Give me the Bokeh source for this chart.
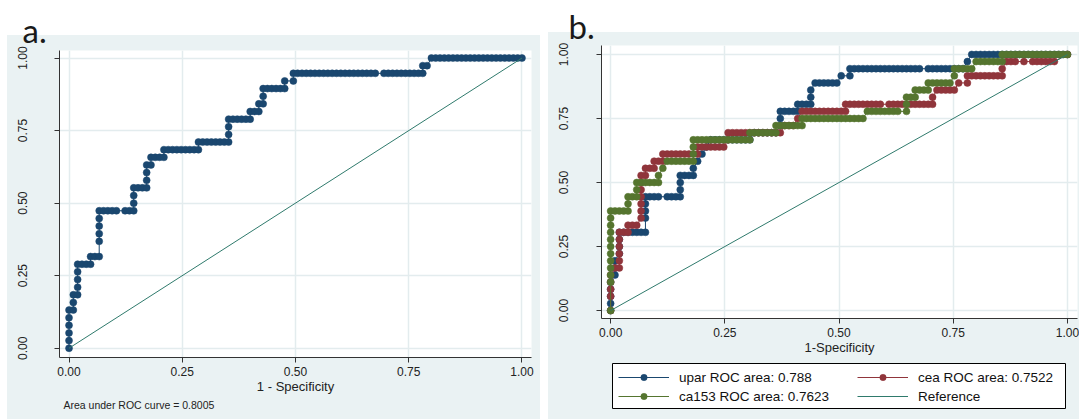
import numpy as np
from bokeh.plotting import figure
from bokeh.models import (ColumnDataSource, Range1d, FixedTicker, Legend,
                          LegendItem, Title)
from bokeh.embed import file_html
from bokeh.resources import INLINE

# ------------------------------------------------------------------ data
# Panel a: single ROC curve, points as (false-positive count, true-positive count)
A_N_NEG = 105
A_N_POS = 38
A_AUC_TEXT = "Area under ROC curve = 0.8005"
a_roc = [
    (0, 0), (0, 1), (0, 2), (0, 3), (0, 4), (0, 5),
    (1, 5), (1, 6), (1, 7),
    (2, 7), (2, 8), (2, 9), (2, 10), (2, 11),
    (3, 11), (4, 11), (5, 11),
    (5, 12), (6, 12), (7, 12),
    (7, 14), (7, 15), (7, 16), (7, 17), (7, 18),
    (8, 18), (9, 18), (10, 18), (11, 18), (13, 18), (14, 18), (15, 18),
    (15, 19), (15, 20), (15, 21),
    (16, 21), (17, 21), (18, 21),
    (18, 22), (18, 23), (18, 24),
    (19, 24),
    (19, 25), (20, 25), (21, 25), (22, 25),
    (22, 26), (23, 26), (24, 26), (25, 26), (26, 26), (27, 26), (28, 26), (29, 26), (30, 26),
    (30, 27), (31, 27), (32, 27), (33, 27), (34, 27), (35, 27), (36, 27), (37, 27),
    (37, 28), (37, 29), (37, 30),
    (38, 30), (39, 30), (40, 30), (41, 30), (42, 30),
    (42, 31), (43, 31), (44, 31),
    (44, 32), (45, 32),
    (45, 33), (45, 34),
    (46, 34), (47, 34), (48, 34), (49, 34), (50, 34),
    (50, 35), (52, 35),
    (52, 36), (53, 36), (54, 36), (55, 36), (56, 36), (57, 36), (58, 36), (59, 36), (60, 36),
    (61, 36), (62, 36), (63, 36), (64, 36), (65, 36), (66, 36), (67, 36), (68, 36), (69, 36),
    (70, 36), (71, 36),
    (73, 36), (74, 36), (75, 36), (76, 36), (77, 36), (78, 36), (79, 36), (80, 36), (81, 36), (82, 36),
    (82, 37), (83, 37),
    (84, 38), (85, 38), (86, 38), (87, 38), (88, 38), (89, 38), (90, 38), (91, 38), (92, 38),
    (93, 38), (94, 38), (95, 38), (96, 38), (97, 38), (98, 38), (99, 38), (100, 38), (101, 38),
    (102, 38), (103, 38), (104, 38), (105, 38),
]

# Panel b: three ROC curves
B_N_NEG = 105
B_N_POS = 36
upar_roc = [
    (0, 0), (0, 1), (0, 2), (0, 3), (0, 4),
    (1, 5), (1, 6), (1, 7),
    (2, 8), (2, 9), (2, 10), (2, 11),
    (3, 11), (4, 11), (5, 11), (6, 11), (7, 11), (8, 11),
    (8, 13), (8, 14), (8, 15), (8, 16),
    (9, 16), (10, 16), (11, 16), (13, 16), (14, 16), (15, 16), (16, 16),
    (16, 17), (16, 18), (16, 19),
    (17, 19), (18, 19), (19, 19),
    (19, 20),
    (20, 21), (21, 22), (22, 23),
    (23, 24), (24, 24), (25, 24), (26, 24), (27, 24), (28, 24), (29, 24), (30, 24), (31, 24), (32, 24),
    (33, 25), (34, 25), (35, 25), (36, 25), (37, 25), (38, 25),
    (39, 26), (39, 27), (39, 28),
    (40, 28), (41, 28), (42, 28), (43, 28),
    (43, 29), (44, 29), (45, 29), (46, 29),
    (46, 30), (46, 31),
    (47, 32), (48, 32), (49, 32), (50, 32), (51, 32), (52, 32),
    (53, 33), (55, 33),
    (55, 34), (56, 34), (57, 34), (58, 34), (59, 34), (60, 34), (61, 34), (62, 34), (63, 34),
    (64, 34), (65, 34), (66, 34), (67, 34), (68, 34), (69, 34), (70, 34), (71, 34),
    (73, 34), (74, 34), (75, 34), (76, 34), (77, 34), (78, 34), (79, 34), (80, 34), (81, 34),
    (82, 35),
    (83, 36), (84, 36), (85, 36), (86, 36), (87, 36), (88, 36), (89, 36), (90, 36), (91, 36),
    (92, 36), (93, 36), (94, 36), (95, 36), (96, 36), (97, 36), (98, 36), (99, 36), (100, 36),
    (101, 36), (102, 36), (103, 36), (104, 36), (105, 36),
]
cea_roc = [
    (0, 0), (0, 2), (0, 3), (0, 4), (0, 5),
    (1, 6), (2, 6),
    (2, 7), (2, 8), (2, 9), (2, 10), (2, 11),
    (3, 11), (4, 11),
    (4, 12), (5, 12), (6, 12),
    (7, 13), (7, 14), (7, 15), (7, 16), (7, 17), (7, 18), (7, 19),
    (8, 19),
    (8, 20), (9, 20), (10, 20),
    (10, 21), (11, 21), (12, 21),
    (12, 22), (13, 22), (14, 22), (15, 22), (16, 22), (17, 22), (18, 22), (20, 22),
    (20, 23), (21, 23), (22, 23), (23, 23), (24, 23), (25, 23), (26, 23),
    (27, 24),
    (27, 25), (28, 25), (29, 25), (30, 25), (31, 25), (32, 25), (33, 25), (34, 25), (35, 25),
    (36, 25), (37, 25), (38, 25), (39, 25),
    (40, 26), (41, 26), (42, 26),
    (43, 27),
    (44, 28), (45, 28), (46, 28), (47, 28), (48, 28), (49, 28), (50, 28), (51, 28), (52, 28),
    (53, 28), (54, 28),
    (54, 29), (55, 29), (56, 29), (57, 29), (58, 29), (59, 29), (60, 29), (61, 29), (62, 29),
    (64, 29), (65, 29), (66, 29), (67, 29), (68, 29), (69, 29), (70, 29), (71, 29), (72, 29),
    (73, 29), (74, 29),
    (74, 30),
    (75, 31), (76, 31), (77, 31), (78, 31), (79, 31),
    (80, 32), (82, 32),
    (82, 33), (83, 33), (84, 33), (85, 33), (86, 33), (87, 33), (88, 33), (89, 33), (90, 33),
    (90, 34),
    (91, 35), (92, 35), (93, 35), (95, 35), (97, 35), (98, 35), (99, 35), (100, 35), (101, 35),
    (102, 35),
    (105, 36),
]
ca153_roc = [
    (0, 0), (0, 4), (0, 5), (0, 6), (0, 7), (0, 8), (0, 9), (0, 10), (0, 11), (0, 12), (0, 13), (0, 14),
    (1, 14), (2, 14), (3, 14), (4, 14),
    (4, 15), (4, 16),
    (5, 16), (6, 16),
    (6, 17), (6, 18),
    (7, 18), (8, 18), (9, 18), (10, 18), (11, 18),
    (11, 19), (12, 20),
    (13, 21), (14, 21), (15, 21), (16, 21), (17, 21), (18, 21), (19, 21),
    (19, 22), (19, 23), (19, 24),
    (20, 24), (21, 24), (22, 24), (23, 24), (24, 24), (25, 24), (26, 24), (27, 24), (28, 24),
    (29, 24), (30, 24), (31, 24), (32, 24),
    (32, 25), (33, 25), (34, 25), (35, 25), (36, 25), (37, 25), (38, 25),
    (38, 26), (39, 26), (40, 26), (41, 26), (42, 26), (43, 26), (44, 26),
    (44, 27), (45, 27), (46, 27), (47, 27), (48, 27), (49, 27), (50, 27), (51, 27), (52, 27),
    (53, 27), (54, 27), (55, 27), (56, 27), (57, 27), (58, 27),
    (59, 28), (60, 28), (61, 28), (62, 28), (63, 28), (64, 28), (65, 28), (66, 28),
    (68, 28),
    (68, 29), (68, 30),
    (69, 30), (70, 30),
    (70, 31), (71, 31), (72, 31), (73, 31),
    (73, 32), (74, 32), (75, 32), (76, 32), (77, 32), (78, 32),
    (79, 33),
    (79, 34), (80, 34), (81, 34), (82, 34), (83, 34),
    (84, 35), (85, 35), (86, 35), (87, 35), (88, 35), (89, 35), (90, 35),
    (90, 36), (91, 36), (92, 36), (93, 36), (94, 36), (95, 36), (96, 36), (97, 36), (98, 36),
    (99, 36), (100, 36), (101, 36), (102, 36), (103, 36), (104, 36), (105, 36),
]
legend_labels = ["upar ROC area: 0.788", "cea ROC area: 0.7522",
                 "ca153 ROC area: 0.7623", "Reference"]

ref_x = [0.0, 1.0]
ref_y = [0.0, 1.0]
tick_values = [0, 0.25, 0.5, 0.75, 1]
tick_labels = ["0.00", "0.25", "0.50", "0.75", "1.00"]
x_title_a = "1 - Specificity"
x_title_b = "1-Specificity"
panel_tags = ["a.", "b."]

# ------------------------------------------------------------------ style
NAVY = "#1a476f"
MAROON = "#90353b"
GREEN = "#55752f"
TEAL = "#2f7a6c"
BG = "#eaf2f3"
GRID = "#e3ecee"
AXIS = "#333333"
FONT = "Liberation Sans"
TAG_FONT = "Lato"


def roc_source(points, n_neg, n_pos):
    fp = np.array([p[0] for p in points], dtype=float)
    tp = np.array([p[1] for p in points], dtype=float)
    return ColumnDataSource(dict(x=fp / n_neg, y=tp / n_pos))


def page_styles(page_left, page_top, box=None):
    st = {"position": "absolute", "left": f"{page_left}px", "top": f"{page_top}px"}
    if box is not None:
        left, top, w, h = box
        st.update({
            "background-color": "#ffffff",
            "background-image": f"linear-gradient({BG}, {BG})",
            "background-repeat": "no-repeat",
            "background-position": f"{left}px {top}px",
            "background-size": f"{w}px {h}px",
        })
    return st


def style_axes(p, x_title, y_standoff, x_standoff):
    p.xaxis.ticker = FixedTicker(ticks=tick_values)
    p.yaxis.ticker = FixedTicker(ticks=tick_values)
    overrides = dict(zip(tick_values, tick_labels))
    for ax in (p.xaxis[0], p.yaxis[0]):
        ax.major_label_overrides = overrides
        ax.axis_line_color = AXIS
        ax.axis_line_width = 1
        ax.major_tick_line_color = AXIS
        ax.minor_tick_line_color = None
        ax.major_tick_out = 5
        ax.major_tick_in = 0
        ax.major_label_text_font = FONT
        ax.major_label_text_font_size = "12px"
        ax.major_label_text_color = "#222222"
    p.yaxis.major_label_orientation = "vertical"
    p.yaxis.major_label_standoff = y_standoff
    p.xaxis.major_label_standoff = x_standoff
    p.xaxis.axis_label = x_title
    p.xaxis.axis_label_text_font = FONT
    p.xaxis.axis_label_text_font_size = "13px"
    p.xaxis.axis_label_text_font_style = "normal"
    p.xaxis.axis_label_text_color = "#222222"
    p.xaxis.axis_label_standoff = 0
    p.grid.grid_line_color = GRID
    p.grid.grid_line_width = 1.5


def style_tag(p, text, offset, standoff):
    p.title.text = text
    p.title.align = "left"
    p.title.offset = offset
    p.title.standoff = standoff
    p.title.text_font = TAG_FONT
    p.title.text_font_size = "33px"
    p.title.text_font_style = "normal"
    p.title.text_color = "#1a1a1a"


def draw_roc(p, src, color):
    ln = p.line("x", "y", source=src, line_color=color, line_width=1)
    sc = p.scatter("x", "y", source=src, marker="circle", size=7,
                   fill_color=color, line_color=color, line_width=0.5)
    return ln, sc


# ------------------------------------------------------------------ panel a
pa = figure(width=544, height=419,
            x_range=Range1d(-0.021, 1.021), y_range=Range1d(-0.032, 1.026),
            output_backend="svg", toolbar_location=None,
            min_border_left=59, min_border_right=13,
            min_border_top=50, min_border_bottom=62,
            border_fill_color=None, background_fill_color="white",
            outline_line_color=None,
            styles=page_styles(0, 0, (7, 35, 533, 384)))
style_axes(pa, x_title_a, 27, 4)
style_tag(pa, panel_tags[0], -37, 2)
draw_roc(pa, roc_source(a_roc, A_N_NEG, A_N_POS), NAVY)
pa.line(ref_x, ref_y, line_color=TEAL, line_width=1)
pa.add_layout(Title(text=A_AUC_TEXT, align="left", offset=4, standoff=0,
                    text_font=FONT, text_font_size="10.5px",
                    text_font_style="normal", text_color="#222222"), "below")

# ------------------------------------------------------------------ panel b
pb = figure(width=535, height=419,
            x_range=Range1d(-0.020, 1.022), y_range=Range1d(-0.031, 1.035),
            output_backend="svg", toolbar_location=None,
            min_border_left=57, min_border_right=2,
            min_border_top=45, min_border_bottom=101,
            border_fill_color=None, background_fill_color="white",
            outline_line_color=None,
            styles=page_styles(544, 0, (4, 32, 531, 387)))
style_axes(pb, x_title_b, 28, 4)
style_tag(pb, panel_tags[1], -33, 0)
draw_roc(pb, roc_source(upar_roc, B_N_NEG, B_N_POS), NAVY)
draw_roc(pb, roc_source(cea_roc, B_N_NEG, B_N_POS), MAROON)
draw_roc(pb, roc_source(ca153_roc, B_N_NEG, B_N_POS), GREEN)
pb.line(ref_x, ref_y, line_color=TEAL, line_width=1)

# ------------------------------------------------------------------ legend of panel b
# (its own small canvas, placed under panel b's x-axis title; the key
#  renderers hold a single NaN point so that only their legend glyphs show)
pl = figure(width=455, height=47, x_range=Range1d(0, 1), y_range=Range1d(0, 1),
            x_axis_location=None, y_axis_location=None,
            output_backend="svg", toolbar_location=None,
            min_border_left=1, min_border_right=1, min_border_top=1, min_border_bottom=1,
            border_fill_color=None, background_fill_color="white",
            outline_line_color="black", outline_line_width=1, outline_line_alpha=1.0,
            styles=page_styles(611, 362))
pl.grid.visible = False
key_renderers = []
for color in (NAVY, MAROON, GREEN):
    blank = ColumnDataSource(dict(x=[np.nan], y=[np.nan]))
    key_renderers.append(draw_roc(pl, blank, color))
ref_key = pl.line(x=[np.nan], y=[np.nan], line_color=TEAL, line_width=1)


def make_legend(items, loc):
    return Legend(items=items, location=loc, orientation="vertical",
                  border_line_color=None, background_fill_alpha=0.0,
                  padding=0, margin=0, spacing=3,
                  glyph_width=51, glyph_height=16, label_height=16,
                  label_standoff=10, label_text_font=FONT,
                  label_text_font_size="13.5px", label_text_color="#111111")


leg1 = make_legend([LegendItem(label=legend_labels[0], renderers=list(key_renderers[0])),
                    LegendItem(label=legend_labels[2], renderers=list(key_renderers[2]))],
                   (6, 4))
leg2 = make_legend([LegendItem(label=legend_labels[1], renderers=list(key_renderers[1])),
                    LegendItem(label=legend_labels[3], renderers=[ref_key])],
                   (245, 4))
pl.add_layout(leg1, "center")
pl.add_layout(leg2, "center")

open("out.html", "w").write(file_html([pa, pb, pl], INLINE))
